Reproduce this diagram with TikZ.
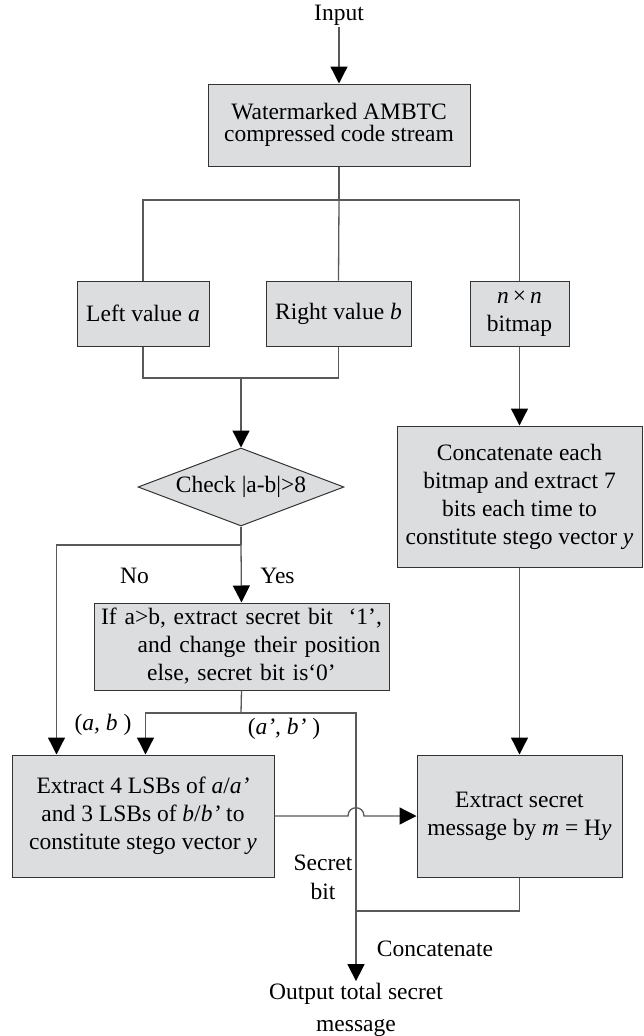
\documentclass[tikz,border=0pt]{standalone}
\usepackage{fontspec}
\setmainfont{Liberation Serif}
\usetikzlibrary{arrows.meta}
\usetikzlibrary{shapes.geometric}
\usetikzlibrary{calc}
\definecolor{boxgray}{RGB}{220,221,223}

\begin{document}
\begin{tikzpicture}[x=1pt, y=-1pt,
	every node/.style={font=\fontsize{23.5}{28}\selectfont, inner sep=2pt},
	box/.style={draw=black!80, fill=boxgray, line width=1pt, align=center},
	dec/.style={diamond, draw=black!80, fill=boxgray, line width=1pt, inner sep=0pt,
		minimum width=206pt, minimum height=78pt, aspect=2.6},
	wire/.style={draw=black!65, line width=1.3pt},
	arr/.style={wire, -{Triangle[length=17pt,width=17pt,color=black]}}]
	\useasboundingbox (0,0) rectangle (643,1036);
	\node (input) at (339,15) {Input};
	\node[box, minimum width=262pt, minimum height=82pt, font=\fontsize{23.5}{22}\selectfont] (code) at (339,125) {Watermarked AMBTC\\compressed code stream};
	\node[box, minimum width=132pt, minimum height=65pt] (left) at (143,313.5) {Left value \textit{a}};
	\node[box, minimum width=145pt, minimum height=65pt] (right) at (338.5,313.5) {Right value \textit{b}};
	\node[box, minimum width=99pt, minimum height=65pt] (bitmap) at (519.5,313.5) {\textit{n}\,×\,\textit{n}\\bitmap};
	\node[dec] (check) at (241,487) {Check |a-b|>8};
	\node[box, minimum width=245pt, minimum height=141pt] (concat) at (519.5,496.5) {Concatenate each\\bitmap and extract 7\\bits each time to\\constitute stego vector \textit{y}};
	\node[box, text width=291pt, minimum height=87pt] (ifbox) at (241.5,646.5) {If a>b, extract secret bit~~‘1’,\\\hspace*{35pt}and change their position\\else, secret bit is‘0’};
	\node[box, minimum width=262pt, minimum height=122pt] (lsb) at (143,816) {Extract 4 LSBs of \textit{a}/\textit{a’}\\and 3 LSBs of \textit{b}/\textit{b’} to\\constitute stego vector \textit{y}};
	\node[box, minimum width=205pt, minimum height=122pt] (extract) at (519.5,816) {Extract secret\\message by \textit{m} = H\textit{y}};
	\node[align=center, font=\fontsize{23.5}{32}\selectfont] (output) at (356,1010) {Output total secret\\message};
	\node (no) at (134.5,576) {No};
	\node (yes) at (277.5,576) {Yes};
	\node (ab) at (103,725) {(\textit{a, b} )};
	\node (abp) at (284,729) {(\textit{a’, b’} )};
	\node[align=center, font=\fontsize{23.5}{29}\selectfont] (sbit) at (323,877.5) {Secret\\bit};
	\node (cat) at (435,949) {Concatenate};
	\coordinate (split) at (339,200);
	\coordinate (merge) at (241,378);
	\coordinate (fork) at (241,545);
	\coordinate (drop) at (241,713);
	\coordinate (bend) at (356,713);
	\coordinate (join) at (356,911);
	\coordinate (hopl) at ($(lsb.east -| join)+(-8,0)$);
	\coordinate (hopr) at ($(lsb.east -| join)+(8,0)$);
	\draw[arr] (input) -- (code);
	\draw[wire] (code) -- (split);
	\draw[wire] (left.north) |- (split) -| (bitmap.north);
	\draw[wire] (split) -- (right.north);
	\draw[wire] (left.south) |- (merge);
	\draw[wire] (right.south) |- (merge);
	\draw[arr] (merge) -- (check.north);
	\draw[arr] (bitmap) -- (concat);
	\draw[arr] (concat) -- (extract);
	\draw[wire] (check.south) -- (fork);
	\draw[arr] (fork) -- (ifbox.north);
	\draw[arr] (fork) -| ([xshift=45pt]lsb.north west);
	\draw[wire] (ifbox.south) -- (drop);
	\draw[arr] (drop) -| ([xshift=134pt]lsb.north west);
	\draw[wire] (drop) -- (bend) -- (join);
	\draw[arr] (lsb.east) -- (hopl) .. controls ($(hopl)+(0,-11)$) and ($(hopr)+(0,-11)$) .. (hopr) -- (extract.west);
	\draw[wire] (extract.south) |- (join);
	\draw[arr] (join) -- (output);
\end{tikzpicture}
\end{document}
